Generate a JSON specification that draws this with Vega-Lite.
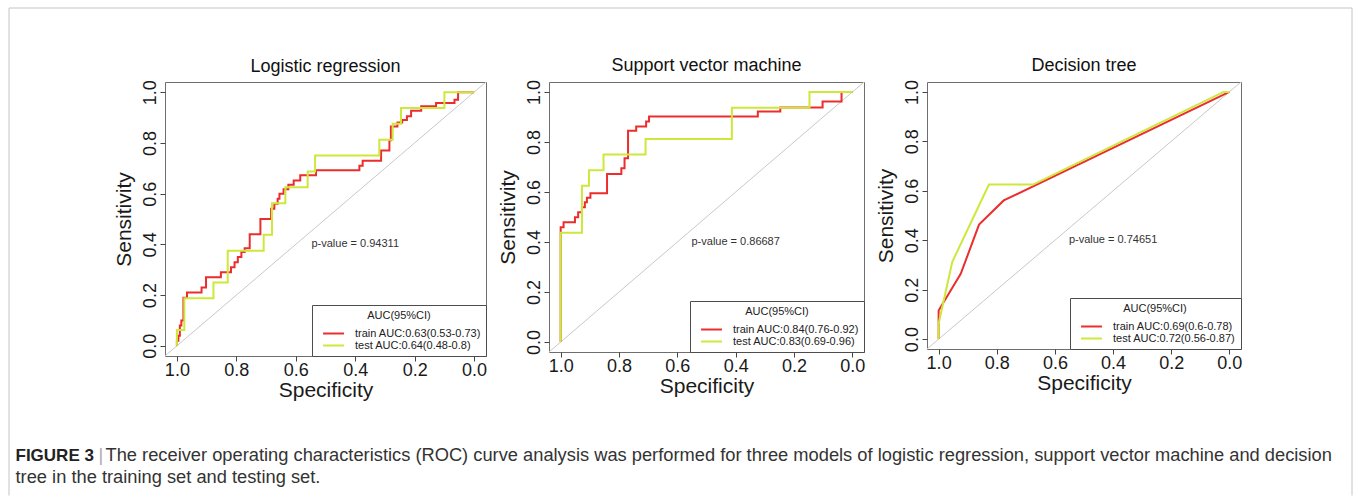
{
  "$schema": "https://vega.github.io/schema/vega-lite/v6.json",
  "autosize": {"type": "pad"},
  "padding": {"left": 8, "top": 7, "right": 0, "bottom": 0},
  "background": "white",
  "config": {
    "font": "Liberation Sans",
    "view": {"stroke": "#6e6e6e", "strokeWidth": 1},
    "axis": {"grid": false, "domain": false, "tickColor": "#444", "tickSize": 5, "labelFontSize": 18, "labelColor": "#1a1a1a", "titleFontSize": 21, "titleFontWeight": "normal", "titleColor": "#1a1a1a", "labelFlush": false, "labelOverlap": false},
    "axisX": {"labelPadding": 0, "titlePadding": 0},
    "axisY": {"labelAngle": -90, "labelAlign": "center", "labelBaseline": "alphabetic", "labelPadding": 4.5, "titlePadding": 7},
    "title": {"fontSize": 18, "fontWeight": "normal", "color": "#111", "offset": 4},
    "legend": {"orient": "bottom-right", "offset": 0, "padding": 5, "fillColor": "white", "strokeColor": "#4d4d4d", "titleFontSize": 11, "titleFontWeight": "normal", "titleAnchor": "middle", "titleColor": "#222", "titlePadding": 6, "labelFontSize": 11, "labelColor": "#222", "symbolSize": 121, "symbolStrokeWidth": 2, "symbolOffset": 10, "labelOffset": 15, "rowPadding": 0}
  },
  "datasets": {
    "lr_train": [
      {"curve": "train AUC:0.63(0.53-0.73)", "spec": 1.0, "sens": 0.0},
      {"curve": "train AUC:0.63(0.53-0.73)", "spec": 1.0, "sens": 0.02},
      {"curve": "train AUC:0.63(0.53-0.73)", "spec": 0.995, "sens": 0.02},
      {"curve": "train AUC:0.63(0.53-0.73)", "spec": 0.995, "sens": 0.04},
      {"curve": "train AUC:0.63(0.53-0.73)", "spec": 0.99, "sens": 0.04},
      {"curve": "train AUC:0.63(0.53-0.73)", "spec": 0.99, "sens": 0.08},
      {"curve": "train AUC:0.63(0.53-0.73)", "spec": 0.985, "sens": 0.08},
      {"curve": "train AUC:0.63(0.53-0.73)", "spec": 0.985, "sens": 0.1},
      {"curve": "train AUC:0.63(0.53-0.73)", "spec": 0.978, "sens": 0.1},
      {"curve": "train AUC:0.63(0.53-0.73)", "spec": 0.978, "sens": 0.19},
      {"curve": "train AUC:0.63(0.53-0.73)", "spec": 0.966, "sens": 0.19},
      {"curve": "train AUC:0.63(0.53-0.73)", "spec": 0.966, "sens": 0.21},
      {"curve": "train AUC:0.63(0.53-0.73)", "spec": 0.917, "sens": 0.21},
      {"curve": "train AUC:0.63(0.53-0.73)", "spec": 0.917, "sens": 0.23},
      {"curve": "train AUC:0.63(0.53-0.73)", "spec": 0.902, "sens": 0.23},
      {"curve": "train AUC:0.63(0.53-0.73)", "spec": 0.902, "sens": 0.27},
      {"curve": "train AUC:0.63(0.53-0.73)", "spec": 0.852, "sens": 0.27},
      {"curve": "train AUC:0.63(0.53-0.73)", "spec": 0.852, "sens": 0.29},
      {"curve": "train AUC:0.63(0.53-0.73)", "spec": 0.818, "sens": 0.29},
      {"curve": "train AUC:0.63(0.53-0.73)", "spec": 0.818, "sens": 0.31},
      {"curve": "train AUC:0.63(0.53-0.73)", "spec": 0.806, "sens": 0.31},
      {"curve": "train AUC:0.63(0.53-0.73)", "spec": 0.806, "sens": 0.33},
      {"curve": "train AUC:0.63(0.53-0.73)", "spec": 0.795, "sens": 0.33},
      {"curve": "train AUC:0.63(0.53-0.73)", "spec": 0.795, "sens": 0.35},
      {"curve": "train AUC:0.63(0.53-0.73)", "spec": 0.783, "sens": 0.35},
      {"curve": "train AUC:0.63(0.53-0.73)", "spec": 0.783, "sens": 0.37},
      {"curve": "train AUC:0.63(0.53-0.73)", "spec": 0.772, "sens": 0.37},
      {"curve": "train AUC:0.63(0.53-0.73)", "spec": 0.772, "sens": 0.385},
      {"curve": "train AUC:0.63(0.53-0.73)", "spec": 0.755, "sens": 0.385},
      {"curve": "train AUC:0.63(0.53-0.73)", "spec": 0.755, "sens": 0.44},
      {"curve": "train AUC:0.63(0.53-0.73)", "spec": 0.719, "sens": 0.44},
      {"curve": "train AUC:0.63(0.53-0.73)", "spec": 0.719, "sens": 0.5},
      {"curve": "train AUC:0.63(0.53-0.73)", "spec": 0.683, "sens": 0.5},
      {"curve": "train AUC:0.63(0.53-0.73)", "spec": 0.683, "sens": 0.54},
      {"curve": "train AUC:0.63(0.53-0.73)", "spec": 0.672, "sens": 0.54},
      {"curve": "train AUC:0.63(0.53-0.73)", "spec": 0.672, "sens": 0.56},
      {"curve": "train AUC:0.63(0.53-0.73)", "spec": 0.661, "sens": 0.56},
      {"curve": "train AUC:0.63(0.53-0.73)", "spec": 0.661, "sens": 0.58},
      {"curve": "train AUC:0.63(0.53-0.73)", "spec": 0.655, "sens": 0.58},
      {"curve": "train AUC:0.63(0.53-0.73)", "spec": 0.655, "sens": 0.6},
      {"curve": "train AUC:0.63(0.53-0.73)", "spec": 0.641, "sens": 0.6},
      {"curve": "train AUC:0.63(0.53-0.73)", "spec": 0.641, "sens": 0.617},
      {"curve": "train AUC:0.63(0.53-0.73)", "spec": 0.625, "sens": 0.617},
      {"curve": "train AUC:0.63(0.53-0.73)", "spec": 0.625, "sens": 0.635},
      {"curve": "train AUC:0.63(0.53-0.73)", "spec": 0.607, "sens": 0.635},
      {"curve": "train AUC:0.63(0.53-0.73)", "spec": 0.607, "sens": 0.652},
      {"curve": "train AUC:0.63(0.53-0.73)", "spec": 0.585, "sens": 0.652},
      {"curve": "train AUC:0.63(0.53-0.73)", "spec": 0.585, "sens": 0.672},
      {"curve": "train AUC:0.63(0.53-0.73)", "spec": 0.532, "sens": 0.672},
      {"curve": "train AUC:0.63(0.53-0.73)", "spec": 0.532, "sens": 0.692},
      {"curve": "train AUC:0.63(0.53-0.73)", "spec": 0.386, "sens": 0.692},
      {"curve": "train AUC:0.63(0.53-0.73)", "spec": 0.386, "sens": 0.71},
      {"curve": "train AUC:0.63(0.53-0.73)", "spec": 0.375, "sens": 0.71},
      {"curve": "train AUC:0.63(0.53-0.73)", "spec": 0.375, "sens": 0.73},
      {"curve": "train AUC:0.63(0.53-0.73)", "spec": 0.313, "sens": 0.73},
      {"curve": "train AUC:0.63(0.53-0.73)", "spec": 0.313, "sens": 0.77},
      {"curve": "train AUC:0.63(0.53-0.73)", "spec": 0.285, "sens": 0.77},
      {"curve": "train AUC:0.63(0.53-0.73)", "spec": 0.285, "sens": 0.81},
      {"curve": "train AUC:0.63(0.53-0.73)", "spec": 0.28, "sens": 0.81},
      {"curve": "train AUC:0.63(0.53-0.73)", "spec": 0.28, "sens": 0.865},
      {"curve": "train AUC:0.63(0.53-0.73)", "spec": 0.258, "sens": 0.865},
      {"curve": "train AUC:0.63(0.53-0.73)", "spec": 0.258, "sens": 0.88},
      {"curve": "train AUC:0.63(0.53-0.73)", "spec": 0.242, "sens": 0.88},
      {"curve": "train AUC:0.63(0.53-0.73)", "spec": 0.242, "sens": 0.89},
      {"curve": "train AUC:0.63(0.53-0.73)", "spec": 0.226, "sens": 0.89},
      {"curve": "train AUC:0.63(0.53-0.73)", "spec": 0.226, "sens": 0.905},
      {"curve": "train AUC:0.63(0.53-0.73)", "spec": 0.212, "sens": 0.905},
      {"curve": "train AUC:0.63(0.53-0.73)", "spec": 0.212, "sens": 0.927},
      {"curve": "train AUC:0.63(0.53-0.73)", "spec": 0.178, "sens": 0.927},
      {"curve": "train AUC:0.63(0.53-0.73)", "spec": 0.178, "sens": 0.944},
      {"curve": "train AUC:0.63(0.53-0.73)", "spec": 0.128, "sens": 0.944},
      {"curve": "train AUC:0.63(0.53-0.73)", "spec": 0.128, "sens": 0.957},
      {"curve": "train AUC:0.63(0.53-0.73)", "spec": 0.066, "sens": 0.957},
      {"curve": "train AUC:0.63(0.53-0.73)", "spec": 0.066, "sens": 0.97},
      {"curve": "train AUC:0.63(0.53-0.73)", "spec": 0.054, "sens": 0.97},
      {"curve": "train AUC:0.63(0.53-0.73)", "spec": 0.054, "sens": 1.0},
      {"curve": "train AUC:0.63(0.53-0.73)", "spec": 0.0, "sens": 1.0}
    ],
    "lr_test": [
      {"curve": "test AUC:0.64(0.48-0.8)", "spec": 1.0, "sens": 0.0},
      {"curve": "test AUC:0.64(0.48-0.8)", "spec": 1.0, "sens": 0.0625},
      {"curve": "test AUC:0.64(0.48-0.8)", "spec": 0.975, "sens": 0.0625},
      {"curve": "test AUC:0.64(0.48-0.8)", "spec": 0.975, "sens": 0.1875},
      {"curve": "test AUC:0.64(0.48-0.8)", "spec": 0.877, "sens": 0.1875},
      {"curve": "test AUC:0.64(0.48-0.8)", "spec": 0.877, "sens": 0.25},
      {"curve": "test AUC:0.64(0.48-0.8)", "spec": 0.829, "sens": 0.25},
      {"curve": "test AUC:0.64(0.48-0.8)", "spec": 0.829, "sens": 0.375},
      {"curve": "test AUC:0.64(0.48-0.8)", "spec": 0.708, "sens": 0.375},
      {"curve": "test AUC:0.64(0.48-0.8)", "spec": 0.708, "sens": 0.4375},
      {"curve": "test AUC:0.64(0.48-0.8)", "spec": 0.68, "sens": 0.4375},
      {"curve": "test AUC:0.64(0.48-0.8)", "spec": 0.68, "sens": 0.5625},
      {"curve": "test AUC:0.64(0.48-0.8)", "spec": 0.635, "sens": 0.5625},
      {"curve": "test AUC:0.64(0.48-0.8)", "spec": 0.635, "sens": 0.625},
      {"curve": "test AUC:0.64(0.48-0.8)", "spec": 0.56, "sens": 0.625},
      {"curve": "test AUC:0.64(0.48-0.8)", "spec": 0.56, "sens": 0.6875},
      {"curve": "test AUC:0.64(0.48-0.8)", "spec": 0.535, "sens": 0.6875},
      {"curve": "test AUC:0.64(0.48-0.8)", "spec": 0.535, "sens": 0.75},
      {"curve": "test AUC:0.64(0.48-0.8)", "spec": 0.319, "sens": 0.75},
      {"curve": "test AUC:0.64(0.48-0.8)", "spec": 0.319, "sens": 0.8125},
      {"curve": "test AUC:0.64(0.48-0.8)", "spec": 0.274, "sens": 0.8125},
      {"curve": "test AUC:0.64(0.48-0.8)", "spec": 0.274, "sens": 0.875},
      {"curve": "test AUC:0.64(0.48-0.8)", "spec": 0.246, "sens": 0.875},
      {"curve": "test AUC:0.64(0.48-0.8)", "spec": 0.246, "sens": 0.9375},
      {"curve": "test AUC:0.64(0.48-0.8)", "spec": 0.1, "sens": 0.9375},
      {"curve": "test AUC:0.64(0.48-0.8)", "spec": 0.1, "sens": 1.0},
      {"curve": "test AUC:0.64(0.48-0.8)", "spec": 0.0, "sens": 1.0}
    ],
    "svm_train": [
      {"curve": "train AUC:0.84(0.76-0.92)", "spec": 1.0, "sens": 0.0},
      {"curve": "train AUC:0.84(0.76-0.92)", "spec": 1.0, "sens": 0.459},
      {"curve": "train AUC:0.84(0.76-0.92)", "spec": 0.99, "sens": 0.459},
      {"curve": "train AUC:0.84(0.76-0.92)", "spec": 0.99, "sens": 0.479},
      {"curve": "train AUC:0.84(0.76-0.92)", "spec": 0.951, "sens": 0.479},
      {"curve": "train AUC:0.84(0.76-0.92)", "spec": 0.951, "sens": 0.499},
      {"curve": "train AUC:0.84(0.76-0.92)", "spec": 0.94, "sens": 0.499},
      {"curve": "train AUC:0.84(0.76-0.92)", "spec": 0.94, "sens": 0.519},
      {"curve": "train AUC:0.84(0.76-0.92)", "spec": 0.927, "sens": 0.519},
      {"curve": "train AUC:0.84(0.76-0.92)", "spec": 0.927, "sens": 0.539},
      {"curve": "train AUC:0.84(0.76-0.92)", "spec": 0.917, "sens": 0.539},
      {"curve": "train AUC:0.84(0.76-0.92)", "spec": 0.917, "sens": 0.559},
      {"curve": "train AUC:0.84(0.76-0.92)", "spec": 0.91, "sens": 0.559},
      {"curve": "train AUC:0.84(0.76-0.92)", "spec": 0.91, "sens": 0.577},
      {"curve": "train AUC:0.84(0.76-0.92)", "spec": 0.898, "sens": 0.577},
      {"curve": "train AUC:0.84(0.76-0.92)", "spec": 0.898, "sens": 0.595},
      {"curve": "train AUC:0.84(0.76-0.92)", "spec": 0.841, "sens": 0.595},
      {"curve": "train AUC:0.84(0.76-0.92)", "spec": 0.841, "sens": 0.672},
      {"curve": "train AUC:0.84(0.76-0.92)", "spec": 0.792, "sens": 0.672},
      {"curve": "train AUC:0.84(0.76-0.92)", "spec": 0.792, "sens": 0.695},
      {"curve": "train AUC:0.84(0.76-0.92)", "spec": 0.781, "sens": 0.695},
      {"curve": "train AUC:0.84(0.76-0.92)", "spec": 0.781, "sens": 0.735},
      {"curve": "train AUC:0.84(0.76-0.92)", "spec": 0.769, "sens": 0.735},
      {"curve": "train AUC:0.84(0.76-0.92)", "spec": 0.769, "sens": 0.845},
      {"curve": "train AUC:0.84(0.76-0.92)", "spec": 0.741, "sens": 0.845},
      {"curve": "train AUC:0.84(0.76-0.92)", "spec": 0.741, "sens": 0.862},
      {"curve": "train AUC:0.84(0.76-0.92)", "spec": 0.707, "sens": 0.862},
      {"curve": "train AUC:0.84(0.76-0.92)", "spec": 0.707, "sens": 0.882},
      {"curve": "train AUC:0.84(0.76-0.92)", "spec": 0.697, "sens": 0.882},
      {"curve": "train AUC:0.84(0.76-0.92)", "spec": 0.697, "sens": 0.902},
      {"curve": "train AUC:0.84(0.76-0.92)", "spec": 0.324, "sens": 0.902},
      {"curve": "train AUC:0.84(0.76-0.92)", "spec": 0.324, "sens": 0.922},
      {"curve": "train AUC:0.84(0.76-0.92)", "spec": 0.247, "sens": 0.922},
      {"curve": "train AUC:0.84(0.76-0.92)", "spec": 0.247, "sens": 0.938},
      {"curve": "train AUC:0.84(0.76-0.92)", "spec": 0.102, "sens": 0.938},
      {"curve": "train AUC:0.84(0.76-0.92)", "spec": 0.102, "sens": 0.962},
      {"curve": "train AUC:0.84(0.76-0.92)", "spec": 0.037, "sens": 0.962},
      {"curve": "train AUC:0.84(0.76-0.92)", "spec": 0.037, "sens": 1.0},
      {"curve": "train AUC:0.84(0.76-0.92)", "spec": 0.0, "sens": 1.0}
    ],
    "svm_test": [
      {"curve": "test AUC:0.83(0.69-0.96)", "spec": 1.0, "sens": 0.0},
      {"curve": "test AUC:0.83(0.69-0.96)", "spec": 1.0, "sens": 0.4375},
      {"curve": "test AUC:0.83(0.69-0.96)", "spec": 0.927, "sens": 0.4375},
      {"curve": "test AUC:0.83(0.69-0.96)", "spec": 0.927, "sens": 0.625},
      {"curve": "test AUC:0.83(0.69-0.96)", "spec": 0.903, "sens": 0.625},
      {"curve": "test AUC:0.83(0.69-0.96)", "spec": 0.903, "sens": 0.6875},
      {"curve": "test AUC:0.83(0.69-0.96)", "spec": 0.853, "sens": 0.6875},
      {"curve": "test AUC:0.83(0.69-0.96)", "spec": 0.853, "sens": 0.75},
      {"curve": "test AUC:0.83(0.69-0.96)", "spec": 0.709, "sens": 0.75},
      {"curve": "test AUC:0.83(0.69-0.96)", "spec": 0.709, "sens": 0.8125},
      {"curve": "test AUC:0.83(0.69-0.96)", "spec": 0.413, "sens": 0.8125},
      {"curve": "test AUC:0.83(0.69-0.96)", "spec": 0.413, "sens": 0.9375},
      {"curve": "test AUC:0.83(0.69-0.96)", "spec": 0.147, "sens": 0.9375},
      {"curve": "test AUC:0.83(0.69-0.96)", "spec": 0.147, "sens": 1.0},
      {"curve": "test AUC:0.83(0.69-0.96)", "spec": 0.0, "sens": 1.0}
    ],
    "dt_train": [
      {"curve": "train AUC:0.69(0.6-0.78)", "spec": 1.0, "sens": 0.0},
      {"curve": "train AUC:0.69(0.6-0.78)", "spec": 1.0, "sens": 0.116},
      {"curve": "train AUC:0.69(0.6-0.78)", "spec": 0.924, "sens": 0.264},
      {"curve": "train AUC:0.69(0.6-0.78)", "spec": 0.861, "sens": 0.463},
      {"curve": "train AUC:0.69(0.6-0.78)", "spec": 0.776, "sens": 0.561},
      {"curve": "train AUC:0.69(0.6-0.78)", "spec": 0.0, "sens": 1.0}
    ],
    "dt_test": [
      {"curve": "test AUC:0.72(0.56-0.87)", "spec": 1.0, "sens": 0.0},
      {"curve": "test AUC:0.72(0.56-0.87)", "spec": 1.0, "sens": 0.0625},
      {"curve": "test AUC:0.72(0.56-0.87)", "spec": 0.953, "sens": 0.3125},
      {"curve": "test AUC:0.72(0.56-0.87)", "spec": 0.827, "sens": 0.625},
      {"curve": "test AUC:0.72(0.56-0.87)", "spec": 0.675, "sens": 0.625},
      {"curve": "test AUC:0.72(0.56-0.87)", "spec": 0.02, "sens": 1.0},
      {"curve": "test AUC:0.72(0.56-0.87)", "spec": 0.0, "sens": 1.0}
    ]
  },
  "spacing": -393.5,
  "resolve": {"scale": {"color": "independent"}, "legend": {"color": "independent"}},
  "vconcat": [
    {
      "spacing": 9,
      "resolve": {"scale": {"color": "independent"}, "legend": {"color": "independent"}},
      "hconcat": [
        {
          "width": 321, "height": 274,
          "title": "Logistic regression",
          "layer": [
            {"data": {"values": [{}]}, "mark": {"type": "rule", "color": "#c8c8c8", "strokeWidth": 1},
             "encoding": {"x": {"datum": 1.04, "type": "quantitative"}, "y": {"datum": -0.04, "type": "quantitative"}, "x2": {"datum": -0.04}, "y2": {"datum": 1.04}}},
            {"data": {"name": "lr_train"}, "mark": {"type": "line", "strokeWidth": 2},
             "encoding": {
               "x": {"field": "spec", "type": "quantitative", "scale": {"domain": [-0.04, 1.04], "reverse": true, "nice": false, "zero": false}, "axis": {"title": "Specificity", "values": [0, 0.2, 0.4, 0.6, 0.8, 1], "format": ".1f"}},
               "y": {"field": "sens", "type": "quantitative", "scale": {"domain": [-0.04, 1.04], "nice": false, "zero": false}, "axis": {"title": "Sensitivity", "values": [0, 0.2, 0.4, 0.6, 0.8, 1], "format": ".1f"}},
               "color": {"field": "curve", "type": "nominal", "scale": {"domain": ["train AUC:0.63(0.53-0.73)", "test AUC:0.64(0.48-0.8)"], "range": ["#EC2D2D", "#CDE83A"]}, "legend": {"title": "AUC(95%CI)", "symbolType": "M-1.9,0H1.9"}},
               "order": {"value": null}}},
            {"data": {"name": "lr_test"}, "mark": {"type": "line", "strokeWidth": 2},
             "encoding": {
               "x": {"field": "spec", "type": "quantitative"},
               "y": {"field": "sens", "type": "quantitative"},
               "color": {"field": "curve", "type": "nominal"},
               "order": {"value": null}}},
            {"data": {"values": [{"label": "p-value = 0.94311"}]}, "mark": {"type": "text", "fontSize": 11, "color": "#333"},
             "encoding": {"x": {"datum": 0.4, "type": "quantitative"}, "y": {"datum": 0.4, "type": "quantitative"}, "text": {"field": "label"}}}
          ]
        },
        {
          "width": 315, "height": 270,
          "title": "Support vector machine",
          "layer": [
            {"data": {"values": [{}]}, "mark": {"type": "rule", "color": "#c8c8c8", "strokeWidth": 1},
             "encoding": {"x": {"datum": 1.04, "type": "quantitative"}, "y": {"datum": -0.04, "type": "quantitative"}, "x2": {"datum": -0.04}, "y2": {"datum": 1.04}}},
            {"data": {"name": "svm_train"}, "mark": {"type": "line", "strokeWidth": 2},
             "encoding": {
               "x": {"field": "spec", "type": "quantitative", "scale": {"domain": [-0.04, 1.04], "reverse": true, "nice": false, "zero": false}, "axis": {"title": "Specificity", "values": [0, 0.2, 0.4, 0.6, 0.8, 1], "format": ".1f"}},
               "y": {"field": "sens", "type": "quantitative", "scale": {"domain": [-0.04, 1.04], "nice": false, "zero": false}, "axis": {"title": "Sensitivity", "values": [0, 0.2, 0.4, 0.6, 0.8, 1], "format": ".1f"}},
               "color": {"field": "curve", "type": "nominal", "scale": {"domain": ["train AUC:0.84(0.76-0.92)", "test AUC:0.83(0.69-0.96)"], "range": ["#EC2D2D", "#CDE83A"]}, "legend": {"title": "AUC(95%CI)", "symbolType": "M-1.9,0H1.9"}},
               "order": {"value": null}}},
            {"data": {"name": "svm_test"}, "mark": {"type": "line", "strokeWidth": 2},
             "encoding": {
               "x": {"field": "spec", "type": "quantitative"},
               "y": {"field": "sens", "type": "quantitative"},
               "color": {"field": "curve", "type": "nominal"},
               "order": {"value": null}}},
            {"data": {"values": [{"label": "p-value = 0.86687"}]}, "mark": {"type": "text", "fontSize": 11, "color": "#333"},
             "encoding": {"x": {"datum": 0.4, "type": "quantitative"}, "y": {"datum": 0.4, "type": "quantitative"}, "text": {"field": "label"}}}
          ]
        },
        {
          "width": 314, "height": 267,
          "title": "Decision tree",
          "layer": [
            {"data": {"values": [{}]}, "mark": {"type": "rule", "color": "#c8c8c8", "strokeWidth": 1},
             "encoding": {"x": {"datum": 1.04, "type": "quantitative"}, "y": {"datum": -0.04, "type": "quantitative"}, "x2": {"datum": -0.04}, "y2": {"datum": 1.04}}},
            {"data": {"name": "dt_train"}, "mark": {"type": "line", "strokeWidth": 2},
             "encoding": {
               "x": {"field": "spec", "type": "quantitative", "scale": {"domain": [-0.04, 1.04], "reverse": true, "nice": false, "zero": false}, "axis": {"title": "Specificity", "values": [0, 0.2, 0.4, 0.6, 0.8, 1], "format": ".1f"}},
               "y": {"field": "sens", "type": "quantitative", "scale": {"domain": [-0.04, 1.04], "nice": false, "zero": false}, "axis": {"title": "Sensitivity", "values": [0, 0.2, 0.4, 0.6, 0.8, 1], "format": ".1f"}},
               "color": {"field": "curve", "type": "nominal", "scale": {"domain": ["train AUC:0.69(0.6-0.78)", "test AUC:0.72(0.56-0.87)"], "range": ["#EC2D2D", "#CDE83A"]}, "legend": {"title": "AUC(95%CI)", "symbolType": "M-1.9,0H1.9"}},
               "order": {"value": null}}},
            {"data": {"name": "dt_test"}, "mark": {"type": "line", "strokeWidth": 2},
             "encoding": {
               "x": {"field": "spec", "type": "quantitative"},
               "y": {"field": "sens", "type": "quantitative"},
               "color": {"field": "curve", "type": "nominal"},
               "order": {"value": null}}},
            {"data": {"values": [{"label": "p-value = 0.74651"}]}, "mark": {"type": "text", "fontSize": 11, "color": "#333"},
             "encoding": {"x": {"datum": 0.4, "type": "quantitative"}, "y": {"datum": 0.4, "type": "quantitative"}, "text": {"field": "label"}}}
          ]
        }
      ]
    },
    {
      "width": 1000, "height": 40,
      "view": {"stroke": null},
      "layer": [
        {"data": {"values": [{}]}, "mark": {"type": "rule", "color": "#c4c4c4", "strokeWidth": 1},
         "encoding": {"x": {"value": -156}, "y": {"value": -436.5}, "y2": {"value": 51}}},
        {"data": {"values": [{}]}, "mark": {"type": "rule", "color": "#c4c4c4", "strokeWidth": 1},
         "encoding": {"x": {"value": -156}, "x2": {"value": 1187}, "y": {"value": -436.5}}},
        {"data": {"values": [{}]}, "mark": {"type": "rule", "color": "#c4c4c4", "strokeWidth": 1},
         "encoding": {"x": {"value": 1187}, "y": {"value": -436.5}, "y2": {"value": 51}}},
        {"data": {"values": [{"text": "FIGURE 3"}]}, "mark": {"type": "text", "align": "left", "baseline": "middle", "fontSize": 17, "fontWeight": "bold", "color": "#222"},
         "encoding": {"text": {"field": "text"}, "x": {"value": -149.5}, "y": {"value": 11}}},
        {"data": {"values": [{"text": "|"}]}, "mark": {"type": "text", "align": "left", "baseline": "middle", "fontSize": 18.3, "color": "#aaa"},
         "encoding": {"text": {"field": "text"}, "x": {"value": -66.5}, "y": {"value": 11}}},
        {"data": {"values": [{"text": "The receiver operating characteristics (ROC) curve analysis was performed for three models of logistic regression, support vector machine and decision"}]}, "mark": {"type": "text", "align": "left", "baseline": "middle", "fontSize": 18.3, "color": "#333"},
         "encoding": {"text": {"field": "text"}, "x": {"value": -59.5}, "y": {"value": 11}}},
        {"data": {"values": [{"text": "tree in the training set and testing set."}]}, "mark": {"type": "text", "align": "left", "baseline": "middle", "fontSize": 18.3, "color": "#333"},
         "encoding": {"text": {"field": "text"}, "x": {"value": -149.5}, "y": {"value": 33.5}}}
      ]
    }
  ]
}
